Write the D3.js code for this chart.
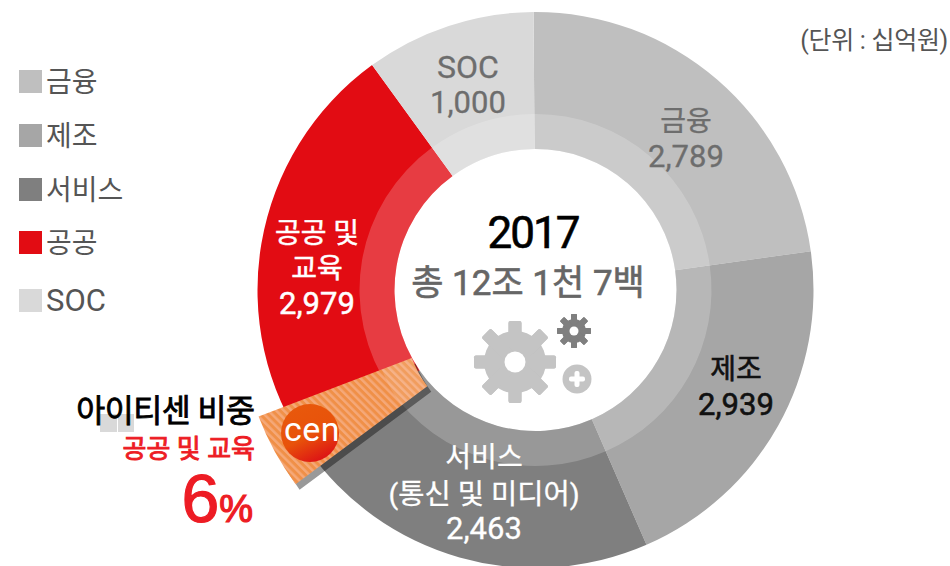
<!DOCTYPE html>
<html><head><meta charset="utf-8">
<script src="https://cdnjs.cloudflare.com/ajax/libs/d3/7.8.5/d3.min.js"></script>
<style>html,body{margin:0;padding:0;background:#fff;overflow:hidden}
text{font-family:Roboto,"Noto Sans CJK KR",sans-serif}</style></head>
<body><svg id="c" width="950" height="566"></svg>
<script>
// Sector names and labelled values (billion KRW)
const categories = ["금융","제조","서비스","공공","SOC"];
const values = [2789,2939,2463,2979,1000];
// The picture's slices are not proportional to their labels: sweep in degrees
const sweepRead = [82.6,74.7,79,89,35.7];
const colors = ["#bfbfbf","#a6a6a6","#7f7f7f","#e20c13","#d9d9d9"];
const legendLabels = ["금융","제조","서비스","공공","SOC"];
const totalTitle = "2017", totalLabel = "총 12조 1천 7백", unitLabel = "(단위 : 십억원)";
const highlightTitle = "아이티센 비중", highlightSector = "공공 및 교육", highlightShare = 6;

const svg = d3.select("#c");
const W = 950, H = 566, cx = 535.5, cy = 290, R = 278, Rm = 176, Ri = 141;
const deg = d => d*Math.PI/180;
const defs = svg.append("defs");

// orange carbon-fibre hatch
const pat = defs.append("pattern").attr("id","hatch").attr("width",5.5).attr("height",5.5)
  .attr("patternUnits","userSpaceOnUse").attr("patternTransform","rotate(-45)");
pat.append("rect").attr("width",5.5).attr("height",5.5).attr("fill","#f09048");
pat.append("rect").attr("width",2.5).attr("height",5.5).attr("fill","#f5a878");
const lg = defs.append("linearGradient").attr("id","logo").attr("x1","0.2").attr("y1","0").attr("x2","0.7").attr("y2","1");
lg.append("stop").attr("offset","0").attr("stop-color","#e8590c");
lg.append("stop").attr("offset","0.55").attr("stop-color","#e8520a");
lg.append("stop").attr("offset","1").attr("stop-color","#dc0f16");

const pie = d3.pie().sort(null).value(d=>d.sweep).startAngle(deg(-0.4)).endAngle(deg(359.6));
const slices = pie(categories.map((c,i)=>({c,sweep:sweepRead[i],value:values[i],color:colors[i]})));
const root = svg.append("g").attr("transform",`translate(${cx},${cy})`);
const outer = d3.arc().innerRadius(Ri).outerRadius(R);
root.selectAll("path.s").data(slices).join("path").attr("class","s").attr("d",outer).attr("fill",d=>d.data.color);
const band = d3.arc().innerRadius(Ri).outerRadius(Rm);
root.selectAll("path.b").data(slices).join("path").attr("class","b").attr("d",band).attr("fill","#fff").attr("fill-opacity",0.2);

// pulled-out highlight wedge
const wx = 522, wy = 316;
const wedgeArc = d3.arc().innerRadius(118).outerRadius(282).startAngle(deg(233.4)).endAngle(deg(249.1));
defs.append("clipPath").attr("id","notWhite").append("path")
  .attr("clip-rule","evenodd")
  .attr("d",`M0 0H${W}V${H}H0Z M${cx+Ri} ${cy}A${Ri} ${Ri} 0 1 0 ${cx-Ri} ${cy}A${Ri} ${Ri} 0 1 0 ${cx+Ri} ${cy}Z`);
const wedgeG = svg.append("g").attr("clip-path","url(#notWhite)");
wedgeG.append("path").attr("transform",`translate(${wx+4},${wy+5.5})`).attr("d",wedgeArc()).attr("fill","#000").attr("fill-opacity",0.4);
wedgeG.append("path").attr("transform",`translate(${wx},${wy})`).attr("d",wedgeArc()).attr("fill","url(#hatch)");
wedgeG.append("path").attr("transform",`translate(${wx},${wy})`).attr("d",wedgeArc.outerRadius(150)()).attr("fill","#fff").attr("fill-opacity",0.12);

// logo
svg.append("circle").attr("cx",310).attr("cy",433).attr("r",29).attr("fill","url(#logo)");
svg.append("text").attr("x",312).attr("y",441).attr("text-anchor","middle").attr("font-size",34).attr("fill","#fff").attr("font-weight",400).style("letter-spacing","0.4px").text("cen");

// sector labels
const lab = [
 {lines:["SOC","1,000"],x:468,ys:[78,113],fill:"#6d6d6d",sw:0.3},
 {lines:["금융","2,789"],x:686,ys:[131,167],fill:"#6d6d6d",sw:0.3},
 {lines:["제조","2,939"],x:736,ys:[379,415],fill:"#111",sw:0.6},
 {lines:["서비스","(통신 및 미디어)","2,463"],x:484,ys:[467,504,539],fill:"#fff",sw:0.3},
 {lines:["공공 및","교육","2,979"],x:317,ys:[243,278,314],fill:"#fff",sw:0.5}
];
lab.forEach(l=>l.lines.forEach((t,i)=>{
  svg.append("text").attr("x",l.x).attr("y",l.ys[i]).attr("text-anchor","middle")
    .attr("font-size", t==="SOC"?32:(/^[\d,]+$/.test(t)?31:(t[0]==="("?28.5:28))).attr("fill",l.fill)
    .attr("stroke",l.fill).attr("stroke-width",l.sw).text(t);
}));

// centre
svg.append("text").attr("x",533).attr("y",248).attr("text-anchor","middle").attr("font-size",44).attr("fill","#000").attr("stroke","#000").attr("stroke-width",0.6).style("letter-spacing","-2px").text(totalTitle);
svg.append("text").attr("x",528).attr("y",295).attr("text-anchor","middle").attr("font-size",35).attr("fill","#666").attr("stroke","#666").attr("stroke-width",0.6).text(totalLabel);

// gears
function gear(x,y,rBody,rTip,rHole,n,tw,fill){
  const g = svg.append("g").attr("transform",`translate(${x},${y})`);
  g.append("circle").attr("r",rBody).attr("fill",fill);
  d3.range(n).forEach(i=>g.append("rect").attr("x",-tw/2).attr("y",-rTip).attr("width",tw).attr("height",rTip*2)
    .attr("rx",tw*0.15).attr("fill",fill).attr("transform",`rotate(${i*360/n})`));
  g.append("circle").attr("r",rHole).attr("fill","#fff");
}
gear(515,362,31,41,10.5,8,13,"#c4c4c4");
gear(574,331,12,17,4.5,8,6,"#7f7f7f");
svg.append("circle").attr("cx",577).attr("cy",379).attr("r",14.5).attr("fill","#c4c4c4");
svg.append("rect").attr("x",569).attr("y",376.5).attr("width",16).attr("height",5).attr("rx",2).attr("fill","#fff");
svg.append("rect").attr("x",574.5).attr("y",371).attr("width",5).attr("height",16).attr("rx",2).attr("fill","#fff");

// legend
const ly = [70,124,178,231,289];
legendLabels.forEach((t,i)=>{
  svg.append("rect").attr("x",19).attr("y",ly[i]).attr("width",23).attr("height",23).attr("fill",colors[i]);
  svg.append("text").attr("x",46).attr("y",ly[i]+22).attr("font-size",t==="SOC"?31:28).attr("fill","#555").text(t);
});

// unit
svg.append("text").attr("x",948).attr("y",49).attr("text-anchor","end").attr("font-size",25).attr("fill","#555").style("letter-spacing","-0.3px").text(unitLabel);

// highlight callout
svg.append("rect").attr("x",100).attr("y",414).attr("width",17).attr("height",18).attr("fill","#d9d9d9");
svg.append("rect").attr("x",118).attr("y",414).attr("width",16).attr("height",18).attr("fill","#d9d9d9");
svg.append("text").attr("x",254.5).attr("y",422).attr("text-anchor","end").attr("font-size",31.5).attr("fill","#000").attr("stroke","#000").attr("stroke-width",0.8).style("letter-spacing","-0.5px").text(highlightTitle);
svg.append("text").attr("x",255).attr("y",458).attr("text-anchor","end").attr("font-size",26).attr("fill","#ed1c24").attr("stroke","#ed1c24").attr("stroke-width",0.9).text(highlightSector);
const pct = svg.append("text").attr("x",253).attr("y",522).attr("text-anchor","end").attr("fill","#ed1c24").attr("stroke","#ed1c24").attr("stroke-width",1.2).style("font-family","'Liberation Sans',sans-serif");
pct.append("tspan").attr("font-size",68).text(highlightShare);
pct.append("tspan").attr("font-size",38).text("%");
</script></body></html>
